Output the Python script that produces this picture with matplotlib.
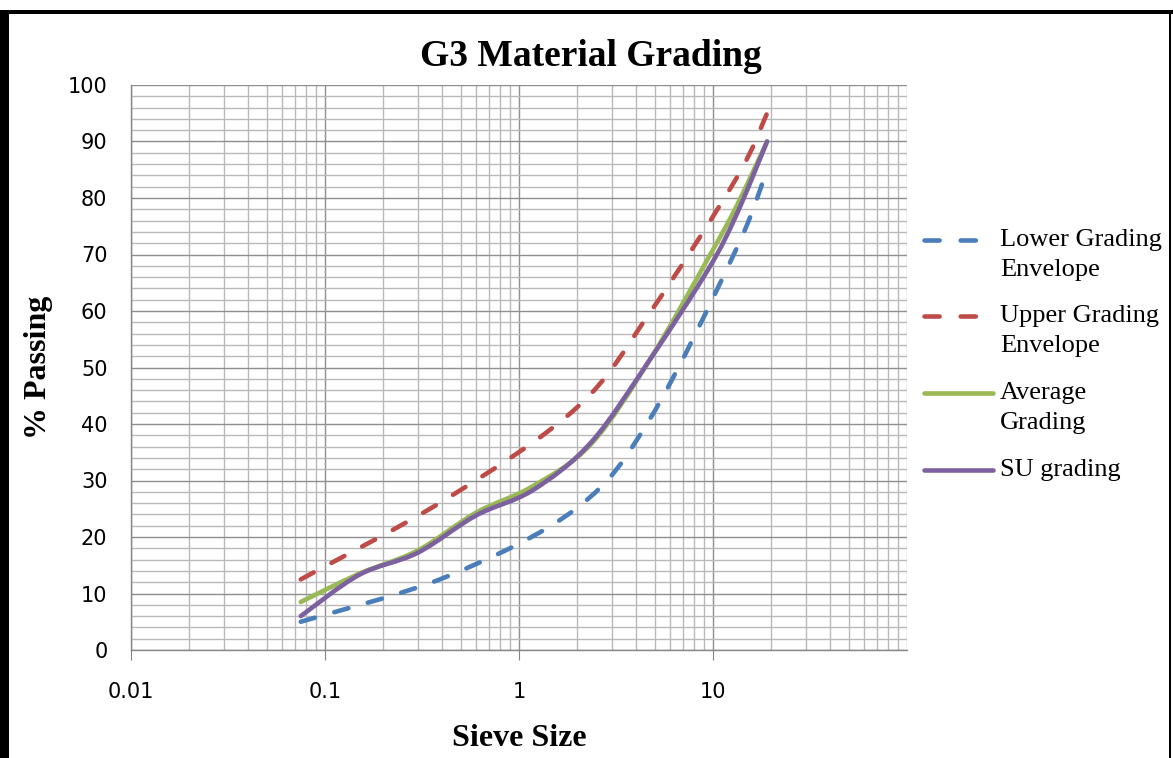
import numpy as np
import matplotlib.pyplot as plt
from matplotlib.lines import Line2D
from matplotlib.patches import PathPatch, Rectangle
from matplotlib.path import Path
from matplotlib.ticker import FixedLocator, LogLocator, MultipleLocator, NullFormatter

# sieve sizes (mm) and % passing
envelope_mm = [0.075, 0.425, 2.0, 4.75, 13.2, 19.0]
lower = [5.0, 13.0, 25.2, 41.0, 71.0, 85.0]
upper = [12.5, 26.8, 43.0, 59.8, 83.5, 95.0]

sample_mm = [0.075, 0.15, 0.3, 0.6, 1.18, 2.36, 4.75, 9.5, 13.2, 19.0]
average = [8.5, 13.5, 17.6, 24.3, 29.0, 36.5, 51.5, 69.5, 78.5, 90.0]
su = [6.0, 13.3, 17.2, 23.8, 28.3, 36.8, 51.5, 67.5, 77.0, 90.0]

x_ticks = [0.01, 0.1, 1, 10]
x_labels = ["0.01", "0.1", "1", "10"]

series = [
    ("Lower Grading\nEnvelope", envelope_mm, lower, "#4a7ebb", "dash"),
    ("Upper Grading\nEnvelope", envelope_mm, upper, "#be4b48", "dash"),
    ("Average\nGrading", sample_mm, average, "#98b954", "solid"),
    ("SU grading", sample_mm, su, "#7d60a0", "solid"),
]


def smooth_path(xs, ys):
    # Excel style smoothed line: cubic Bezier through the points (log x)
    u = np.log10(xs)
    y = np.asarray(ys, dtype=float)
    n = len(u)
    verts = [(xs[0], y[0])]
    codes = [Path.MOVETO]
    for i in range(n - 1):
        a = max(i - 1, 0)
        b = min(i + 2, n - 1)
        c1 = (u[i] + (u[i + 1] - u[a]) / 6, y[i] + (y[i + 1] - y[a]) / 6)
        c2 = (u[i + 1] - (u[b] - u[i]) / 6, y[i + 1] - (y[b] - y[i]) / 6)
        verts += [(10 ** c1[0], c1[1]), (10 ** c2[0], c2[1]), (xs[i + 1], y[i + 1])]
        codes += [Path.CURVE4] * 3
    return Path(verts, codes)


W, H = 1173, 758
fig = plt.figure(figsize=(W / 100, H / 100), dpi=100)
ax = fig.add_axes([131 / W, 1 - 650 / H, (907 - 131) / W, (650 - 85) / H])

serif = "Liberation Serif"
dash = (0, (3.2, 4.4))
lw = 3.3

ax.set_xscale("log")
ax.set_xlim(0.01, 100)
ax.set_ylim(0, 100)

for name, xs, vals, color, style in series:
    patch = PathPatch(smooth_path(xs, vals), fill=False, edgecolor=color, lw=lw,
                      linestyle=dash if style == "dash" else "-",
                      capstyle="round", joinstyle="round", zorder=3)
    ax.add_patch(patch)

ax.xaxis.set_major_locator(FixedLocator(x_ticks))
ax.set_xticklabels(x_labels)
ax.xaxis.set_minor_locator(LogLocator(base=10, subs=np.arange(2, 10), numticks=20))
ax.xaxis.set_minor_formatter(NullFormatter())
ax.yaxis.set_major_locator(MultipleLocator(10))
ax.yaxis.set_minor_locator(MultipleLocator(2))

ax.grid(which="minor", color="#b9b9b9", lw=1.0)
ax.grid(which="major", color="#8e8e8e", lw=1.0)
ax.axvline(100, color="#b9b9b9", lw=1.0)
ax.set_axisbelow(True)

ax.tick_params(axis="x", which="major", length=7, color="#868686", pad=16,
               labelsize=15)
ax.tick_params(axis="x", which="minor", length=0)
ax.tick_params(axis="y", which="both", length=0, pad=17, labelsize=15)
for lab in ax.get_xticklabels() + ax.get_yticklabels():
    lab.set_fontfamily("DejaVu Sans")

for side in ["top", "right"]:
    ax.spines[side].set_visible(False)
for side in ["left", "bottom"]:
    ax.spines[side].set_color("#868686")
    ax.spines[side].set_linewidth(1.0)

ax.set_xlabel("Sieve Size", fontsize=23, fontweight="bold", family=serif)
ax.xaxis.set_label_coords(0.5, (650 - 738) / 565)
ax.xaxis.label.set_va("center")
ax.set_ylabel("% Passing", fontsize=23, fontweight="bold", family=serif)
ax.yaxis.set_label_coords((38 - 131) / 776, 0.5)
ax.yaxis.label.set_va("center")

fig.text(591 / W, 1 - 57 / H, "G3 Material Grading", ha="center", va="center",
         fontsize=27, fontweight="bold", family=serif)

# legend drawn by hand so the marker sits on the first text line
leg_y = [240, 316, 393, 470]
leg_dash = (0, (3.3, 4.6, 3.3, 20))
for (name, xs, vals, color, style), y in zip(series, leg_y):
    yf = 1 - y / H
    if style == "dash":
        xa, xb, ls = 924 / W, 976 / W, leg_dash
    else:
        xa, xb, ls = 924 / W, 993 / W, "-"
    fig.add_artist(Line2D([xa, xb], [yf, yf], color=color, lw=lw,
                          linestyle=ls, dash_capstyle="round",
                          solid_capstyle="round", transform=fig.transFigure))
    for i, line in enumerate(name.split("\n")):
        fig.text(1000 / W, 1 - (y + 30 * i) / H, line, ha="left", va="center",
                 fontsize=19, family=serif)

# black frame on the top and left, thin line on the right
fig.add_artist(Rectangle((0, 0), 9 / W, 1 - 10 / H, transform=fig.transFigure,
                         color="black", lw=0))
fig.add_artist(Rectangle((0, 1 - 14 / H), 1, 4 / H, transform=fig.transFigure,
                         color="black", lw=0))
fig.add_artist(Rectangle((1169 / W, 0), 2 / W, 1 - 10 / H, transform=fig.transFigure,
                         color="black", lw=0))

fig.savefig("out.png", dpi=100)
